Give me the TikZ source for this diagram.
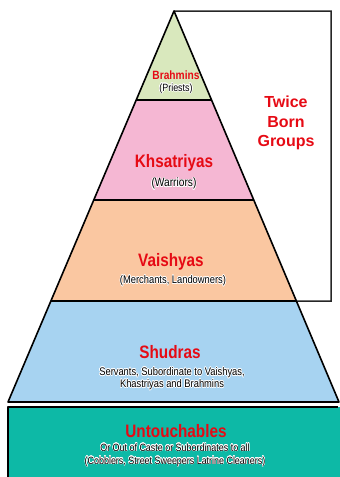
\documentclass[tikz,border=0pt]{standalone}
\usepackage{fontspec}
\setmainfont{Liberation Sans}
\newfontfamily\narrowfont{Liberation Sans}[FakeStretch=0.85]
\usepackage[copies]{contour}
\contourlength{0.6pt}
\contournumber{16}
\usetikzlibrary{calc}

\definecolor{castered}{HTML}{E60A14}
\definecolor{brahmingreen}{HTML}{D9E8BD}
\definecolor{kshatriyapink}{HTML}{F5B7D3}
\definecolor{vaishyapeach}{HTML}{FAC7A1}
\definecolor{shudrablue}{HTML}{A7D3F1}
\definecolor{untouchteal}{HTML}{0DB9A6}

\tikzset{
  edge/.style={draw=black, line width=1.6pt, line join=round},
  boxline/.style={draw=black!85, line width=1.5pt},
  caste/.style={text=castered, font=\narrowfont\bfseries\fontsize{18}{20}\selectfont},
  duty/.style={align=center, font=\narrowfont\fontsize{11}{12}\selectfont}
}

\begin{document}
\begin{tikzpicture}[x=1pt, y=-1pt]
    \useasboundingbox (0,0) rectangle (340,477);
    \clip (0,0) rectangle (340,477);

    \coordinate (apex) at (174,11);
    \coordinate (bl) at (8,402);
    \coordinate (br) at (339,402);
    \coordinate (l1) at ($(apex)!0.2276!(bl)$);
    \coordinate (r1) at ($(apex)!0.2276!(br)$);
    \coordinate (l2) at ($(apex)!0.4834!(bl)$);
    \coordinate (r2) at ($(apex)!0.4834!(br)$);
    \coordinate (l3) at ($(apex)!0.7417!(bl)$);
    \coordinate (r3) at ($(apex)!0.7417!(br)$);

    % Twice born box
    \draw[boxline] (apex) -- (331,11) -- (331,301) -- (r3);

    % Layers
    \fill[brahmingreen] (apex) -- (r1) -- (l1) -- cycle;
    \fill[kshatriyapink] (l1) -- (r1) -- (r2) -- (l2) -- cycle;
    \fill[vaishyapeach] (l2) -- (r2) -- (r3) -- (l3) -- cycle;
    \fill[shudrablue] (l3) -- (r3) -- (br) -- (bl) -- cycle;
    \draw[edge] (apex) -- (br) -- (bl) -- cycle;
    \draw[edge] (l1) -- (r1);
    \draw[edge] (l2) -- (r2);
    \draw[edge] (l3) -- (r3);

    % Base outside the pyramid
    \fill[untouchteal] (8,407) rectangle (342,490);
    \draw[edge] (8,490) -- (8,407) -- (338,407);

    \node[caste, font=\narrowfont\bfseries\fontsize{12}{14}\selectfont] (brahmins) at (176,75) {Brahmins};
    \node[duty, font=\narrowfont\fontsize{10.5}{12}\selectfont] (priests) at (176,89) {\contour{white}{(Priests)}};

    \node[text=castered, align=center, font=\bfseries\fontsize{16}{19.5}\selectfont] (twice) at (286,123) {Twice\\Born\\Groups};

    \node[caste] (khsatriyas) at (174,163) {Khsatriyas};
    \node[duty, font=\narrowfont\fontsize{12}{13}\selectfont] (warriors) at (174,184) {\contour{white}{(Warriors)}};

    \node[caste] (vaishyas) at (171,262) {Vaishyas};
    \node[duty] (merchants) at (173,281) {\contour{white}{(Merchants, Landowners)}};

    \node[caste] (shudras) at (170,352) {Shudras};
    \node[duty] (servants) at (172,379) {\contour{white}{Servants, Subordinate to Vaishyas,}\\\contour{white}{Khastriyas and Brahmins}};

    \node[caste] (untouchables) at (176,431) {Untouchables};
    \contourlength{0.35pt}
    \node[duty, font=\narrowfont\fontsize{10.5}{13}\selectfont] (outcaste) at (175,455) {\contour{white}{Or Out of Caste or Subordinates to all}\\\contour{white}{(Cobblers, Street Sweepers Latrine Cleaners)}};
\end{tikzpicture}
\end{document}
